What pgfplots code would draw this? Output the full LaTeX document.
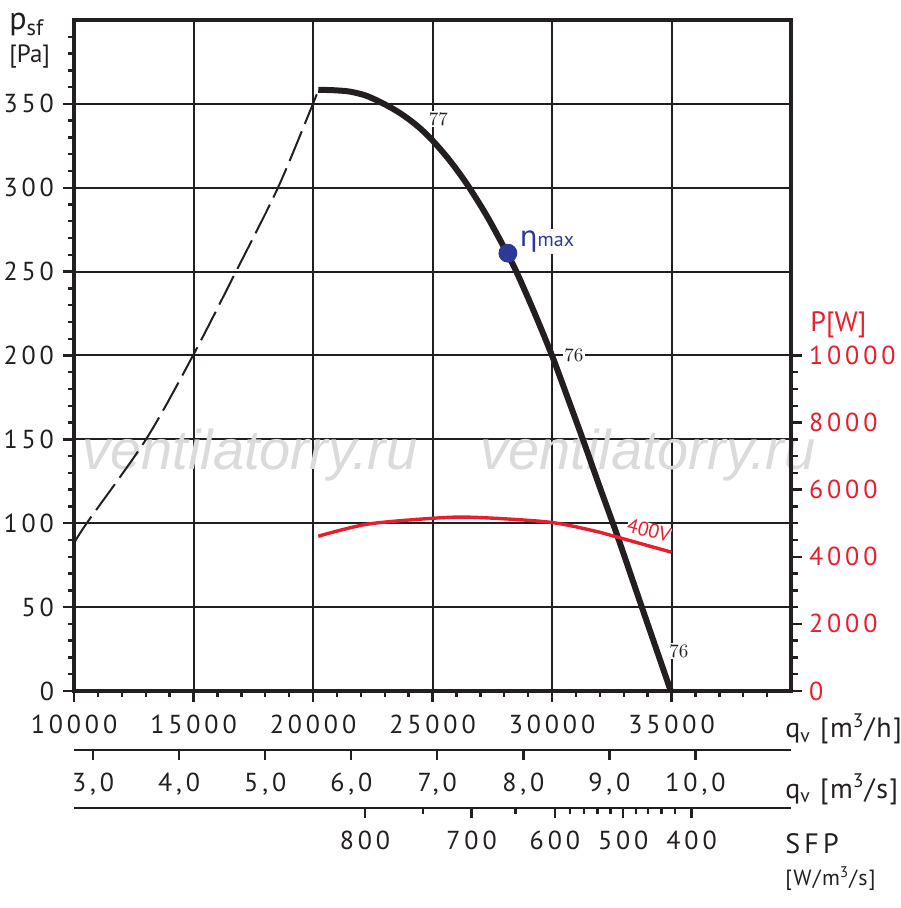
\documentclass[border=0pt]{standalone}
\usepackage{pgfplots}
\pgfplotsset{compat=1.18}
\usepackage{fontspec}
\newfontfamily\din{PT Sans}[LetterSpace=15]
\newfontfamily\dinm{PT Sans}[LetterSpace=6]
\newfontfamily\dinn{PT Sans}
\newfontfamily\dv{DejaVu Sans}
\newfontfamily\wm{Liberation Sans}
\definecolor{pred}{RGB}{230,30,45}
\definecolor{pblue}{RGB}{44,58,150}
\definecolor{lineblk}{RGB}{35,31,32}
\begin{document}
\begin{tikzpicture}
\useasboundingbox (-37pt,-108.5pt) rectangle (413pt,345.5pt);
% main axis
\begin{axis}[
 at={(0,0)}, anchor=south west,
 width=358.5pt, height=335.5pt, scale only axis,
 xmin=10000, xmax=40000, ymin=0, ymax=400,
 scaled x ticks=false, scaled y ticks=false,
 xtick={10000,15000,20000,25000,30000,35000},
 xticklabels={10000,15000,20000,25000,30000,35000},
 minor xtick={11000,12000,...,39000},
 ytick={0,50,100,150,200,250,300,350},
 yticklabels={0,50,100,150,200,250,300,350},
 minor ytick={10,20,...,390},
 tick pos=left, tick align=outside,
 major tick length=5.5pt, minor tick length=3pt,
 every tick/.append style={lineblk, line width=1.2pt},
 grid=major,
 major grid style={lineblk, line width=1pt},
 axis line style={lineblk, line width=1.6pt},
 ticklabel style={font=\fontsize{13}{15}\din, text=lineblk},
 xticklabel style={anchor=north, yshift=-3pt},
 yticklabel style={anchor=east, xshift=-1pt},
 clip=false,
]
\node[font=\wm\itshape\fontsize{28}{28}\selectfont, text=black!14] at (axis cs:17362,140.6) {ventilatorry.ru};
\node[font=\wm\itshape\fontsize{28}{28}\selectfont, text=black!14] at (axis cs:34010,140.6) {ventilatorry.ru};
\addplot[lineblk, line width=1pt, dash pattern=on 16pt off 4pt, smooth] coordinates {
 (10000,88) (10531,100) (13012,150) (14980,200) (16776,250) (18533,300) (19997,350) (20220,358.4)};
\addplot[lineblk, line width=3pt, smooth] coordinates {
 (20220,358.4) (20900,358.1) (21545,357.3) (22200,355.0) (22800,351.2) (23400,346.6) (23917,341.8) (24450,335.8) (25000,328.2) (25700,316.6) (26425,302.5) (27262,283.5) (28100,261.6) (28518,249.7) (29250,226) (30000,200) (30650,175) (31291,150) (32000,121.5) (32755,91.7) (33759,50) (34970,0)};
\addplot[only marks, mark=*, mark size=4.5pt, pblue] coordinates {(28154,261)};
\node[fill=white, inner sep=0.6pt, font=\fontsize{9.5}{10}\selectfont, text=lineblk] at (axis cs:25247,341) {77};
\node[fill=white, inner sep=0.6pt, font=\fontsize{9.5}{10}\selectfont, text=lineblk] at (axis cs:30914,200) {76};
\node[fill=white, inner sep=0.6pt, font=\fontsize{9.5}{10}\selectfont, text=lineblk] at (axis cs:35306,23.8) {76};
\node[anchor=west, fill=white, inner sep=1pt, text=pblue] at (axis cs:28560,268) {{\dv\fontsize{14}{14}\selectfont η}{\dinn\fontsize{10}{10}\selectfont max}};
\end{axis}
% power axis
\begin{axis}[
 at={(0,0)}, anchor=south west,
 width=358.5pt, height=335.5pt, scale only axis,
 xmin=10000, xmax=40000, ymin=0, ymax=20000,
 scaled y ticks=false,
 axis y line*=right, axis x line=none,
 y axis line style={-, lineblk, line width=1.6pt},
 ytick={0,2000,4000,6000,8000,10000},
 yticklabels={0,2000,4000,6000,8000,10000},
 minor ytick={500,1000,...,9500},
 tick align=outside, major tick length=5.5pt, minor tick length=3.5pt,
 every tick/.append style={lineblk, line width=1.2pt},
 ticklabel style={font=\fontsize{13}{15}\din, text=pred},
 yticklabel style={anchor=west, xshift=0pt},
 clip=false,
]
\addplot[pred, line width=1.7pt, smooth] coordinates {
 (20220,4613) (22256,4970) (25016,5148) (26690,5178) (29910,5030) (32000,4732) (32755,4583) (35000,4137)};
\node[rotate=-15, fill=white, inner sep=0pt, text=pred, font=\dinn\fontsize{10}{10}\selectfont] at (axis cs:34052,4791) {400V};
\end{axis}
% m3/s scale
\begin{axis}[
 at={(0,-29.5pt)}, anchor=south west,
 width=358.5pt, height=10pt, scale only axis,
 xmin=2.7777778, xmax=11.1111111, ymin=0, ymax=1,
 scaled x ticks=false,
 axis x line=bottom, axis y line=none,
 x axis line style={-, lineblk, line width=1.4pt},
 xtick={3,4,5,6,7,8,9,10},
 xticklabels={{3,0},{4,0},{5,0},{6,0},{7,0},{8,0},{9,0},{10,0}},
 tick align=outside, major tick length=5pt,
 every tick/.append style={lineblk, line width=1.2pt},
 ticklabel style={font=\fontsize{13}{15}\din, text=lineblk},
 xticklabel style={anchor=north, yshift=-3pt},
]
\addplot[draw=none] coordinates {(3,0.5)};
\end{axis}
% SFP scale
\begin{axis}[
 at={(0,-58.5pt)}, anchor=south west,
 width=358.5pt, height=10pt, scale only axis,
 xmin=10000, xmax=40000, ymin=0, ymax=1,
 scaled x ticks=false,
 axis x line=bottom, axis y line=none,
 x axis line style={-, lineblk, line width=1.4pt},
 xtick={22172,26635,30120,32977,35838},
 xticklabels={800,700,600,500,400},
 minor xtick={24611,28476,30747,31345,31906,32449,33508,34022,34583,35139},
 tick align=outside, major tick length=5pt, minor tick length=3pt,
 every tick/.append style={lineblk, line width=1.2pt},
 ticklabel style={font=\fontsize{13}{15}\din, text=lineblk},
 xticklabel style={anchor=north, yshift=-3pt},
]
\addplot[draw=none] coordinates {(20000,0.5)};
\end{axis}
% labels
\node[anchor=base west, inner sep=0pt, text=lineblk, font=\fontsize{14}{16}\dinm] at (355.5pt,-23.5pt) {q\textsubscript{v} [m\textsuperscript{3}/h]};
\node[anchor=base west, inner sep=0pt, text=lineblk, font=\fontsize{14}{16}\dinm] at (355.5pt,-53.5pt) {q\textsubscript{v} [m\textsuperscript{3}/s]};
\node[anchor=base west, inner sep=0pt, text=lineblk, font=\fontsize{14}{16}\din] at (355.5pt,-81pt) {SFP};
\node[anchor=base west, inner sep=0pt, text=lineblk, font=\fontsize{11}{13}\dinm] at (355.5pt,-97pt) {[W/m\textsuperscript{3}/s]};
\node[anchor=base west, inner sep=0pt, text=pred, font=\fontsize{14}{16}\dinn] at (368pt,179.5pt) {P[W]};
\node[anchor=base west, inner sep=0pt, text=lineblk, font=\fontsize{16}{16}\dinn] at (-32.5pt,330.5pt) {p\textsubscript{sf}};
\node[anchor=base west, inner sep=0pt, text=lineblk, font=\fontsize{12.5}{14}\dinn] at (-32.5pt,314pt) {[Pa]};
\end{tikzpicture}
\end{document}
